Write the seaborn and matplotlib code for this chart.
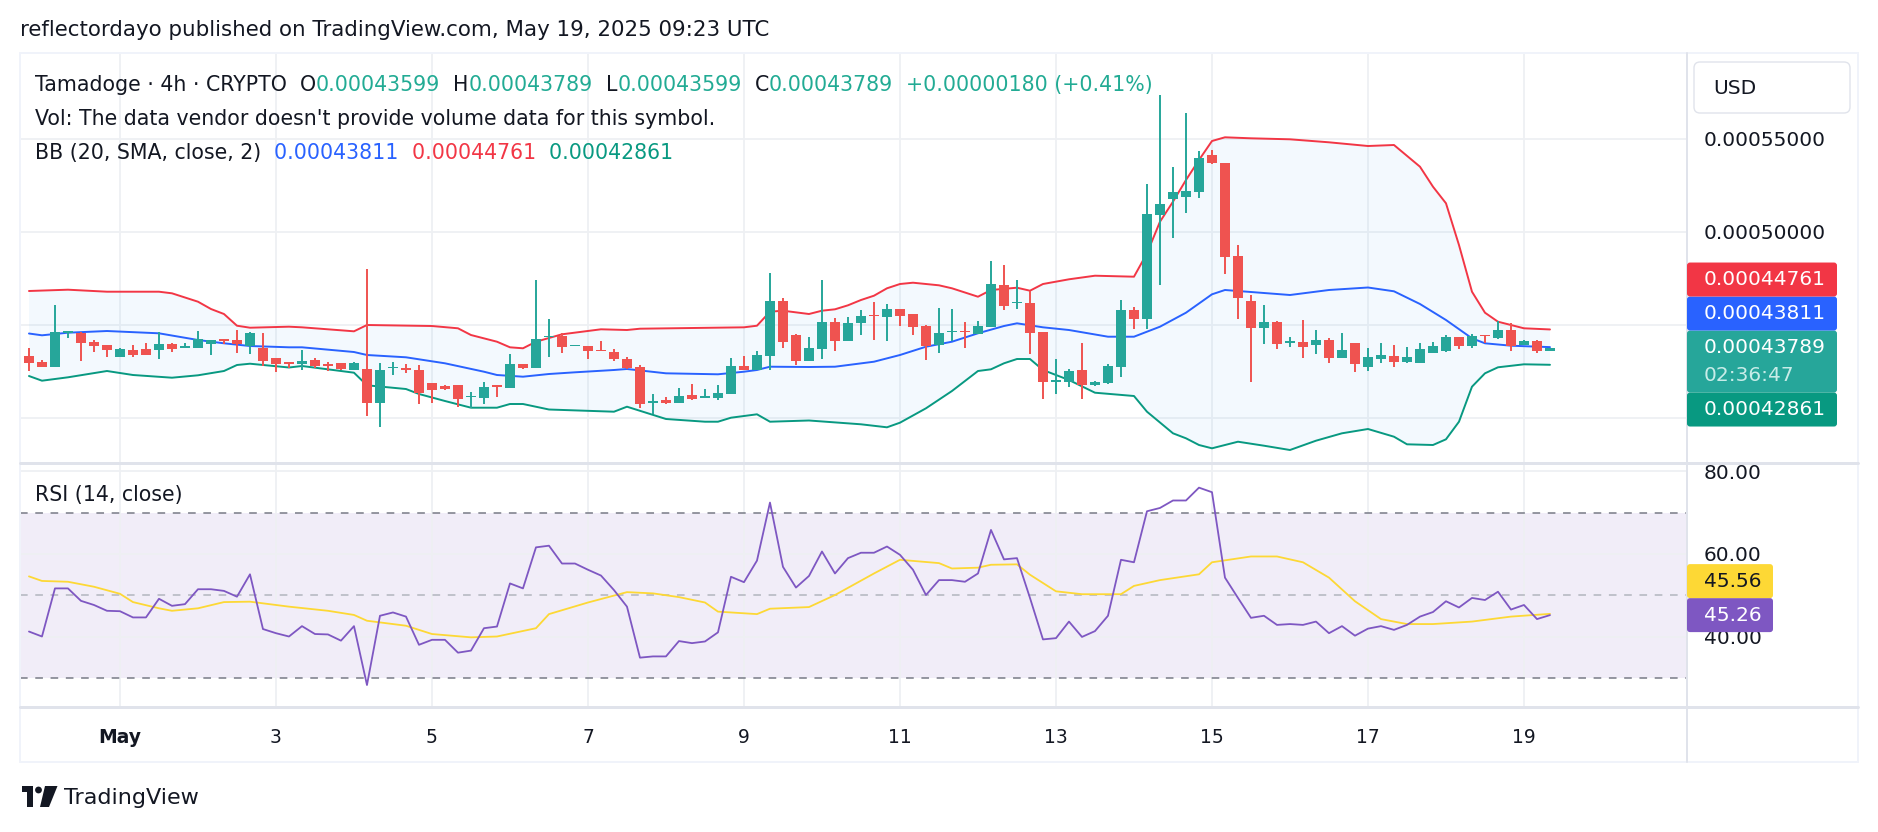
import numpy as np
import pandas as pd
import matplotlib
matplotlib.use("Agg")
import matplotlib.pyplot as plt
import seaborn as sns
from matplotlib.patches import FancyBboxPatch, Polygon, Circle
from matplotlib.lines import Line2D
from matplotlib.transforms import IdentityTransform
from matplotlib.ticker import FuncFormatter, FixedLocator, NullFormatter

# ---- data (prices in units of 1e-8 USD) ----
S = 1e-8
start_time = "2025-04-29 20:00"

opens_e8 = [43333, 43010, 42760, 44587, 44552, 44086, 43906, 43297, 43656, 43709,
            43673, 43978, 43781, 43781, 43996, 44229, 44193, 43871, 43781, 43244,
            42993, 42904, 43119, 42886, 42940, 42581, 42635, 40825, 42689, 42707,
            42581, 41864, 41721, 41757, 41148, 41094, 41757, 41631, 42886, 42707,
            44337, 44409, 43853, 43871, 43656, 43549, 43172, 42743, 40825, 40968,
            40825, 41237, 41094, 41094, 41309, 42796, 42599, 43352, 46291, 44463,
            43083, 43728, 45162, 44158, 45126, 45556, 45448, 45861, 45592, 44947,
            43943, 44606, 44678, 44517, 44875, 47151, 46165, 46183, 44624, 41954,
            41955, 42581, 41756, 41901, 42760, 45806, 45340, 50931, 51756, 51899,
            52168, 54121, 53709, 48709, 46290, 44821, 45161, 44014, 44068, 43907,
            44194, 43208, 44014, 42760, 43154, 43333, 43029, 42939, 43477, 43620,
            44355, 43889, 44480, 44301, 44713, 43943, 44122, 43599]
highs_e8 = [43745, 43118, 46075, 44677, 44623, 44193, 43906, 43745, 43906, 44014,
            44623, 44014, 44014, 44677, 44175, 44229, 44731, 44623, 44570, 43244,
            42993, 43656, 43208, 42993, 42940, 42993, 48011, 42940, 42993, 42886,
            42850, 41900, 41757, 41757, 41416, 41936, 41757, 43441, 42886, 47420,
            45323, 44552, 43907, 43871, 44140, 43692, 43280, 42832, 41273, 41112,
            41596, 41829, 41542, 41757, 43226, 43316, 43585, 47778, 46434, 44499,
            44337, 47420, 45359, 45431, 45807, 46237, 46129, 45861, 45592, 44982,
            45914, 45861, 45180, 45215, 48441, 48226, 47420, 46846, 44624, 43172,
            42652, 44014, 41990, 42903, 46344, 45950, 52562, 57365, 53476, 56379,
            54354, 54408, 53709, 49301, 46613, 46057, 45215, 44337, 45269, 44731,
            44283, 44552, 44014, 43745, 44014, 43907, 43799, 44014, 44068, 44444,
            44355, 44498, 44480, 45233, 45089, 44176, 44176, 43789]
lows_e8 = [42545, 42760, 42760, 44319, 43082, 43566, 43297, 43297, 43297, 43405,
           43190, 43566, 43781, 43781, 43387, 43996, 43512, 43459, 42795, 42491,
           42671, 42581, 42707, 42545, 42581, 42581, 40126, 39535, 42312, 42438,
           40753, 40825, 41506, 40610, 40556, 40753, 41148, 41631, 42617, 42707,
           43262, 43477, 43853, 43190, 43585, 43083, 42635, 40556, 40234, 40771,
           40825, 40986, 41094, 40986, 41309, 42599, 42599, 42599, 43746, 42868,
           43083, 43190, 43621, 44158, 44463, 44194, 44158, 44947, 44463, 43119,
           43513, 44158, 43782, 44517, 44875, 45807, 45861, 43441, 41022, 41291,
           41648, 41003, 41720, 41828, 42186, 44767, 44803, 47168, 49695, 51003,
           51809, 53637, 47724, 45340, 41955, 43960, 43692, 43835, 43208, 43423,
           42975, 43208, 42491, 42545, 42939, 42760, 42939, 42939, 43477, 43549,
           43710, 43781, 44014, 44247, 43620, 43943, 43512, 43599]
closes_e8 = [42975, 42760, 44623, 44677, 44050, 43888, 43673, 43691, 43405, 43405,
             43960, 43727, 43853, 44229, 44175, 44140, 43978, 44570, 43082, 42921,
             42904, 43047, 42796, 42796, 42635, 42940, 40825, 42581, 42743, 42563,
             41327, 41506, 41542, 41040, 41201, 41667, 41685, 42886, 42707, 44248,
             44409, 43836, 43907, 43621, 43585, 43155, 42689, 40771, 40897, 40825,
             41183, 41040, 41183, 41363, 42796, 42599, 43370, 46291, 44104, 43083,
             43764, 45162, 44158, 45108, 45484, 45484, 45861, 45484, 44911, 43871,
             44552, 44696, 44606, 44947, 47205, 46040, 46237, 44588, 41954, 42026,
             42545, 41774, 41937, 42796, 45806, 45340, 50967, 51505, 52132, 52204,
             53978, 53691, 48673, 46469, 44821, 45143, 43960, 44140, 43835, 44194,
             43208, 43638, 42885, 43280, 43387, 43029, 43280, 43692, 43871, 44373,
             43889, 44408, 44408, 44713, 43889, 44140, 43609, 43789]

# Bollinger Bands (20, 2) at bar indices
bb_upper_idx = [0, 3, 6, 10, 11, 13, 14, 15, 16, 17, 20, 21, 25, 26, 31, 33, 34, 36, 37, 38,
                39, 40, 41, 44, 46, 47, 55, 56, 57, 58, 60, 61, 62, 63, 64, 65, 66, 67, 68, 70,
                71, 73, 74, 76, 77, 78, 80, 82, 85, 86, 87, 88, 89, 90, 91, 92, 94, 97, 100, 103,
                105, 107, 108, 109, 110, 111, 112, 113, 114, 115, 117]
bb_upper_e8 = [46828, 46898, 46790, 46790, 46704, 46253, 45860, 45591, 44962, 44855, 44909, 44876,
               44661, 45000, 44946, 44823, 44462, 44102, 43801, 43748, 44102, 44301, 44500, 44769,
               44731, 44801, 44876, 44962, 45715, 45769, 45591, 45769, 45844, 46059, 46344, 46575,
               46973, 47204, 47274, 47134, 46973, 46521, 46882, 47005, 46844, 47204, 47457, 47650,
               47597, 48855, 50553, 51629, 52795, 53870, 54892, 55091, 55037, 54983, 54822, 54623,
               54677, 53510, 52435, 51543, 49300, 46790, 45661, 45177, 45000, 44823, 44761]
bb_basis_idx = [0, 1, 3, 6, 10, 13, 15, 17, 20, 21, 25, 26, 29, 32, 35, 36, 38, 40, 42, 45,
                46, 49, 53, 55, 56, 57, 60, 62, 65, 67, 69, 71, 73, 75, 76, 78, 80, 83, 85, 87,
                89, 91, 92, 94, 97, 100, 103, 105, 107, 109, 111, 112, 114, 117]
bb_basis_e8 = [44543, 44446, 44586, 44677, 44554, 44194, 44016, 43871, 43801, 43801, 43548, 43387,
               43264, 42941, 42489, 42312, 42221, 42366, 42457, 42581, 42635, 42403, 42350, 42489,
               42581, 42758, 42742, 42758, 43027, 43387, 43833, 44102, 44554, 44946, 45091, 44876,
               44731, 44371, 44371, 44909, 45661, 46650, 46882, 46774, 46613, 46882, 47016, 46812,
               46129, 45269, 44285, 44016, 43887, 43811]
bb_lower_idx = [0, 1, 3, 6, 8, 11, 13, 15, 16, 17, 20, 21, 24, 25, 26, 29, 30, 32, 34, 36,
                37, 38, 40, 45, 46, 49, 52, 53, 54, 56, 57, 60, 64, 66, 67, 69, 71, 73, 74, 75,
                76, 77, 78, 80, 82, 85, 86, 88, 89, 90, 91, 93, 95, 97, 99, 101, 103, 105, 106, 108,
                109, 110, 111, 112, 113, 115, 117]
bb_lower_e8 = [42258, 42006, 42188, 42527, 42312, 42167, 42296, 42527, 42850, 42919, 42715, 42796,
               42527, 42436, 41758, 41559, 41291, 40914, 40554, 40554, 40753, 40753, 40457, 40339,
               40608, 39947, 39801, 39801, 40016, 40199, 39801, 39866, 39662, 39500, 39748, 40522,
               41452, 42527, 42618, 42941, 43172, 43172, 42581, 42043, 41360, 41183, 40339, 39178,
               38909, 38549, 38371, 38726, 38511, 38280, 38780, 39178, 39409, 38995, 38586, 38549,
               38855, 39801, 41683, 42403, 42726, 42887, 42861]

# RSI(14) per bar, and its moving average read at bar indices
rsi_values = [41.3, 40.1, 51.7, 51.7, 48.7, 47.7, 46.3, 46.2, 44.7, 44.7,
              49.2, 47.5, 47.9, 51.5, 51.5, 51.1, 49.7, 55.1, 41.9, 40.9,
              40.1, 42.6, 40.7, 40.6, 39.1, 42.6, 28.4, 45.1, 45.9, 44.9,
              38.1, 39.3, 39.3, 36.2, 36.7, 42.1, 42.5, 52.9, 51.7, 61.6,
              62.0, 57.7, 57.7, 56.2, 54.8, 51.3, 47.3, 35.0, 35.3, 35.3,
              39.0, 38.5, 38.9, 41.1, 54.5, 53.2, 58.4, 72.4, 56.9, 51.9,
              54.7, 60.6, 55.3, 59.0, 60.3, 60.3, 61.8, 59.8, 56.2, 50.1,
              53.7, 53.7, 53.3, 55.3, 65.8, 58.7, 59.0, 49.4, 39.4, 39.7,
              43.7, 40.0, 41.4, 45.1, 58.6, 58.0, 70.3, 71.1, 72.9, 72.9,
              76.0, 74.9, 54.3, 49.4, 44.6, 45.1, 42.9, 43.1, 42.9, 43.7,
              40.9, 42.6, 40.3, 42.0, 42.6, 41.7, 42.9, 44.9, 46.0, 48.6,
              47.1, 49.4, 48.9, 50.9, 46.6, 47.7, 44.3, 45.26]
rsi_ma_idx = [0, 1, 3, 5, 7, 8, 10, 11, 13, 15, 17, 20, 23, 25, 26, 29, 31, 34, 36, 39,
              40, 43, 46, 48, 50, 52, 53, 56, 57, 60, 62, 65, 67, 70, 71, 73, 74, 76, 77, 79,
              81, 84, 85, 87, 90, 91, 94, 96, 98, 100, 102, 104, 106, 108, 111, 114, 117]
rsi_ma_values = [54.6, 53.5, 53.3, 52.1, 50.4, 48.4, 46.9, 46.3, 46.9, 48.4, 48.5, 47.3, 46.3,
                 45.3, 43.9, 42.7, 40.7, 39.9, 40.1, 42.1, 45.5, 48.3, 50.8, 50.5, 49.6, 48.3,
                 46.1, 45.5, 46.8, 47.2, 50.1, 55.3, 58.6, 57.8, 56.5, 56.7, 57.4, 57.5, 55.0,
                 51.0, 50.3, 50.3, 52.3, 53.7, 55.1, 58.0, 59.4, 59.4, 58.0, 54.3, 48.6, 44.3,
                 43.1, 43.1, 43.7, 44.9, 45.56]

# colours
UP, DOWN = "#26a69a", "#ef5350"
BB_BLUE, BB_RED, BB_GREEN = "#2962ff", "#f23645", "#089981"
RSI_PURPLE, RSI_YELLOW = "#7e57c2", "#fdd835"
TEXT = "#131722"
GRID = "#eef0f3"
BORDER = "#e0e3eb"

sns.set_theme(style="white")
plt.rcParams["font.family"] = ["DejaVu Sans"]

W, H = 1878, 832
fig = plt.figure(figsize=(W / 100, H / 100), dpi=100)
fig.patch.set_facecolor("white")


def fx(x):
    return x / W


def fy(y):
    return 1 - y / H


ax = fig.add_axes([fx(20), fy(462), fx(1687) - fx(20), fy(53) - fy(462)])
ax_rsi = fig.add_axes([fx(20), fy(707), fx(1687) - fx(20), fy(464) - fy(707)])

o = np.array(opens_e8) * S
h = np.array(highs_e8) * S
l = np.array(lows_e8) * S
c = np.array(closes_e8) * S
idx = np.arange(len(c))
times = pd.date_range(start_time, periods=len(c), freq="4h")
cols = np.where(c >= o, UP, DOWN)

# ---- price pane ----
up_x, up_y = np.array(bb_upper_idx), np.array(bb_upper_e8) * S
lo_x, lo_y = np.array(bb_lower_idx), np.array(bb_lower_e8) * S
ax.fill(np.r_[up_x, lo_x[::-1]], np.r_[up_y, lo_y[::-1]], color="#2196f3", alpha=0.05, lw=0, zorder=1)
sns.lineplot(x=up_x, y=up_y, ax=ax, color=BB_RED, linewidth=1.4, estimator=None, sort=False, zorder=2)
sns.lineplot(x=np.array(bb_basis_idx), y=np.array(bb_basis_e8) * S, ax=ax, color=BB_BLUE,
             linewidth=1.4, estimator=None, sort=False, zorder=2)
sns.lineplot(x=lo_x, y=lo_y, ax=ax, color=BB_GREEN, linewidth=1.4, estimator=None, sort=False, zorder=2)

ax.vlines(idx, l, h, colors=cols, linewidth=1.4, zorder=3)
body_bottom = np.minimum(o, c)
body_height = np.maximum(np.abs(c - o), 40 * S)
ax.bar(idx, body_height, bottom=body_bottom, width=0.72, color=cols, linewidth=0, zorder=4)

xlim = (-0.69, 127.54)
ax.set_xlim(*xlim)
ax.set_ylim(37635 * S, 59623 * S)

day_ticks = np.where((times.hour == 0) & (times.day % 2 == 1))[0]
day_labels = ["May" if times[i].day == 1 else str(times[i].day) for i in day_ticks]

ax.set_xticks(day_ticks)
# labelled levels; the two lower levels sit behind the scale labels, so grid only
ax.yaxis.set_major_locator(FixedLocator([0.0005, 0.00055]))
ax.yaxis.set_minor_locator(FixedLocator([0.0004, 0.00045]))
ax.yaxis.set_minor_formatter(NullFormatter())
ax.yaxis.tick_right()
ax.yaxis.set_major_formatter(FuncFormatter(lambda v, p: f"{v:.8f}"))
ax.tick_params(axis="x", labelbottom=False, length=0)
ax.tick_params(axis="y", which="both", length=0, pad=12, labelsize=14.5, labelcolor=TEXT)
ax.grid(True, which="both", color=GRID, linewidth=1.3)
ax.set_xlabel("")
ax.set_ylabel("")
for sp in ax.spines.values():
    sp.set_visible(False)

# ---- RSI pane ----
ax_rsi.axhspan(30, 70, color=RSI_PURPLE, alpha=0.1, lw=0, zorder=0)
for lvl, col in [(70, "#787b86"), (50, "#b2b5be"), (30, "#787b86")]:
    ax_rsi.axhline(lvl, color=col, linestyle=(0, (5, 5)), linewidth=1.1, zorder=1)
sns.lineplot(x=np.array(rsi_ma_idx), y=np.array(rsi_ma_values), ax=ax_rsi, color=RSI_YELLOW,
             linewidth=1.3, estimator=None, sort=False, zorder=2)
sns.lineplot(x=idx, y=np.array(rsi_values), ax=ax_rsi, color=RSI_PURPLE,
             linewidth=1.3, estimator=None, sort=False, zorder=3)
ax_rsi.set_xlim(*xlim)
ax_rsi.set_ylim(23.1, 81.7)
ax_rsi.set_yticks([40, 60, 80])
ax_rsi.yaxis.tick_right()
ax_rsi.yaxis.set_major_formatter(FuncFormatter(lambda v, p: f"{v:.2f}"))
ax_rsi.set_xticks(day_ticks)
ax_rsi.set_xticklabels(day_labels)
ax_rsi.get_xticklabels()[0].set_fontweight("bold")
ax_rsi.tick_params(axis="x", length=0, pad=15, labelsize=13.5, labelcolor=TEXT)
ax_rsi.tick_params(axis="y", length=0, pad=12, labelsize=14.5, labelcolor=TEXT)
ax_rsi.grid(True, color=GRID, linewidth=1.3)
ax_rsi.set_xlabel("")
ax_rsi.set_ylabel("")
for sp in ax_rsi.spines.values():
    sp.set_visible(False)

# ---- frame lines ----
def hline(y, x0, x1, color, lw):
    fig.add_artist(Line2D([fx(x0), fx(x1)], [fy(y), fy(y)], color=color, linewidth=lw / 1.39))


def vline(x, y0, y1, color, lw):
    fig.add_artist(Line2D([fx(x), fx(x)], [fy(y0), fy(y1)], color=color, linewidth=lw / 1.39))


hline(53, 20, 1858, "#f0f3fa", 2)
hline(762, 20, 1858, "#f0f3fa", 2)
vline(20, 53, 762, "#f0f3fa", 2)
vline(1858, 53, 762, "#f0f3fa", 2)
hline(463, 20, 1858, BORDER, 3)
hline(707, 20, 1858, BORDER, 3)
vline(1687, 53, 762, BORDER, 2)


# ---- legends (multi-colour text) ----
def rich(x, y, parts, size):
    t = fig.text(fx(x), fy(y), parts[0][0], color=parts[0][1], fontsize=size, va="center", ha="left")
    for s, col in parts[1:]:
        t = ax.annotate(s, xy=(1, 0.5), xycoords=t, va="center", ha="left", color=col,
                        fontsize=size, annotation_clip=False)
    return t


fig.text(fx(20), fy(30), "reflectordayo published on TradingView.com, May 19, 2025 09:23 UTC",
         fontsize=15.4, color=TEXT, va="center", ha="left")

chg = closes_e8[-1] - closes_e8[-2]
VAL = "#22ab94"
LEG = 14.8
rich(35, 85, [("Tamadoge · 4h · CRYPTO", TEXT),
              ("  O", TEXT), (f"{o[-1]:.8f}", VAL),
              ("  H", TEXT), (f"{h[-1]:.8f}", VAL),
              ("  L", TEXT), (f"{l[-1]:.8f}", VAL),
              ("  C", TEXT), (f"{c[-1]:.8f}", VAL),
              (f"  +{chg * S:.8f} (+{chg / closes_e8[-2] * 100:.2f}%)", VAL)], LEG)
rich(35, 119, [("Vol: The data vendor doesn't provide volume data for this symbol.", TEXT)], LEG)
rich(35, 153, [("BB (20, SMA, close, 2)", TEXT),
               (f"  {bb_basis_e8[-1] * S:.8f}", BB_BLUE),
               (f"  {bb_upper_e8[-1] * S:.8f}", BB_RED),
               (f"  {bb_lower_e8[-1] * S:.8f}", BB_GREEN)], LEG)
rich(35, 495, [("RSI (14, close)", TEXT),
               (f"  {rsi_values[-1]:.2f}", RSI_PURPLE),
               (f"  {rsi_ma_values[-1]:.2f}", RSI_YELLOW)], LEG)


# ---- scale labels, stacked around the primary one ----
def scale_labels(axis, items, primary, width, size):
    line_h = 28
    x0 = axis.get_position().x1 * W

    def desired(v):
        return axis.transData.transform((0, v))[1]

    boxes = {}
    p = items[primary]
    ph = 6 + line_h * len(p["lines"])
    top = desired(p["value"]) + 17
    boxes[primary] = (top - ph, top)
    above = sorted([k for k in items if k != primary and items[k]["value"] >= p["value"]],
                   key=lambda k: items[k]["value"])
    below = sorted([k for k in items if k != primary and items[k]["value"] < p["value"]],
                   key=lambda k: -items[k]["value"])
    prev = boxes[primary][1]
    for k in above:
        hh = 6 + line_h * len(items[k]["lines"])
        b = max(desired(items[k]["value"]) - hh / 2, prev)
        boxes[k] = (b, b + hh)
        prev = b + hh
    prev = boxes[primary][0]
    for k in below:
        hh = 6 + line_h * len(items[k]["lines"])
        t = min(desired(items[k]["value"]) + hh / 2, prev)
        boxes[k] = (t - hh, t)
        prev = t - hh
    for k, (b, t) in boxes.items():
        it = items[k]
        fig.add_artist(FancyBboxPatch((x0, b), width, t - b, boxstyle="round,pad=0,rounding_size=3",
                                      transform=IdentityTransform(), facecolor=it["bg"],
                                      edgecolor="none", zorder=5))
        for j, (s, col) in enumerate(it["lines"]):
            fig.text((x0 + 17) / W, (t - 17 - line_h * j) / H, s, color=col, fontsize=size,
                     va="center", ha="left", zorder=6)


price_items = {
    "upper": dict(value=bb_upper_e8[-1] * S, bg=BB_RED, lines=[(f"{bb_upper_e8[-1] * S:.8f}", "white")]),
    "basis": dict(value=bb_basis_e8[-1] * S, bg=BB_BLUE, lines=[(f"{bb_basis_e8[-1] * S:.8f}", "white")]),
    "last": dict(value=c[-1], bg=UP, lines=[(f"{c[-1]:.8f}", "white"), ("02:36:47", "#c8ece8")]),
    "lower": dict(value=bb_lower_e8[-1] * S, bg=BB_GREEN, lines=[(f"{bb_lower_e8[-1] * S:.8f}", "white")]),
}
scale_labels(ax, price_items, "last", 150, 14.5)
rsi_items = {
    "ma": dict(value=rsi_ma_values[-1], bg=RSI_YELLOW, lines=[(f"{rsi_ma_values[-1]:.2f}", TEXT)]),
    "rsi": dict(value=rsi_values[-1], bg=RSI_PURPLE, lines=[(f"{rsi_values[-1]:.2f}", "white")]),
}
scale_labels(ax_rsi, rsi_items, "rsi", 86, 14.5)

# currency box
fig.add_artist(FancyBboxPatch((1694, H - 113), 156, 51, boxstyle="round,pad=0,rounding_size=6",
                              transform=IdentityTransform(), facecolor="white",
                              edgecolor="#e0e3eb", linewidth=1))
fig.text(fx(1713), fy(88), "USD", fontsize=14.5, color=TEXT, va="center", ha="left")

# ---- TradingView logo ----
logo = [Polygon([(21.5, H - 786), (33, H - 786), (33, H - 807), (27, H - 807), (27, H - 792), (21.5, H - 792)],
                closed=True),
        Circle((38.5, H - 790), 3.4),
        Polygon([(45, H - 786), (57.5, H - 786), (49, H - 807), (40, H - 807)], closed=True)]
for shape in logo:
    shape.set_transform(IdentityTransform())
    shape.set_facecolor(TEXT)
    shape.set_edgecolor("none")
    fig.add_artist(shape)
fig.text(fx(64), fy(798), "TradingView", fontsize=16, color=TEXT, va="center", ha="left")

fig.savefig("out.png", dpi=100, facecolor="white")
